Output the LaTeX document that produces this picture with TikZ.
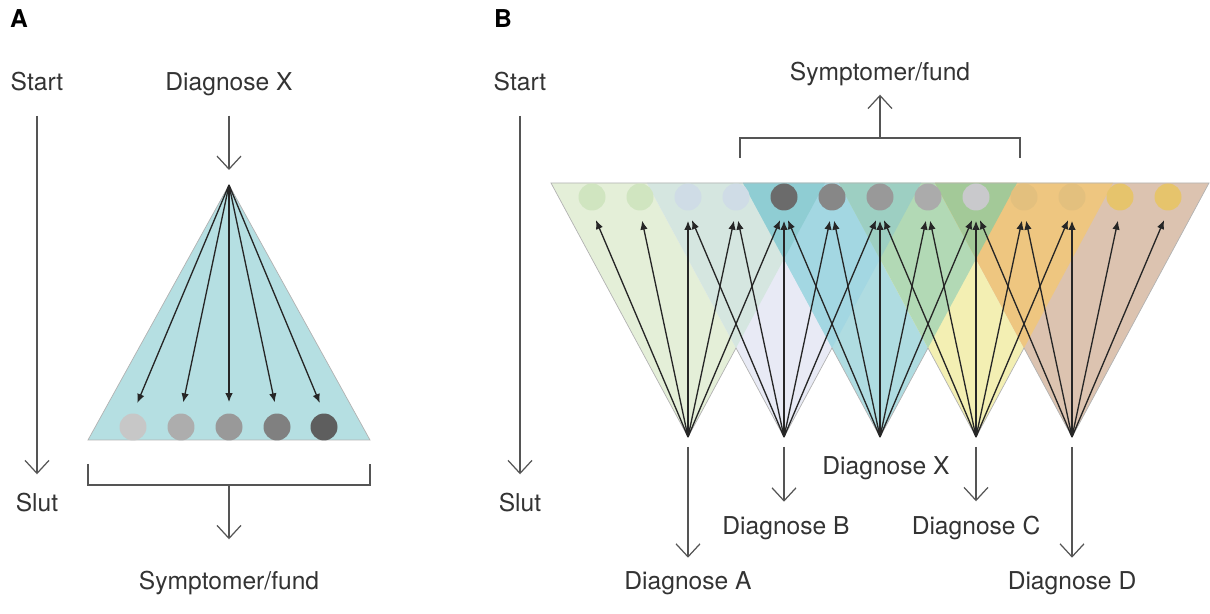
\documentclass[tikz,border=0pt]{standalone}
\usepackage{fontspec}
\setmainfont{TeX Gyre Heros}
\usepackage{tikz}
\usetikzlibrary{arrows.meta}

\definecolor{txtgrey}{HTML}{333333}
\definecolor{flowgrey}{HTML}{555555}
\definecolor{pyramid}{HTML}{B5DFE2}
\definecolor{coneA}{HTML}{E4EFD8}
\definecolor{coneB}{HTML}{E8EAF5}
\definecolor{coneX}{HTML}{AFDCE1}
\definecolor{coneC}{HTML}{F3EFB3}
\definecolor{coneD}{HTML}{DCC3B0}
\definecolor{coneAB}{HTML}{D5E6E0}
\definecolor{coneBX}{HTML}{A3D7E2}
\definecolor{coneXC}{HTML}{B2D9B5}
\definecolor{coneCD}{HTML}{EEC680}
\definecolor{coneABX}{HTML}{8FCDD3}
\definecolor{coneBXC}{HTML}{9DCFC2}
\definecolor{coneXCD}{HTML}{A3C998}

\begin{document}
\begin{tikzpicture}[
  x=0.02cm, y=-0.02cm,
  label/.style={
    font=\fontsize{14}{16}\selectfont, text=txtgrey, inner sep=0pt, anchor=base,
  },
  panel/.style={
    font=\fontsize{14}{16}\selectfont\bfseries, text=black, inner sep=0pt, anchor=base,
  },
  flow/.style={
    draw=flowgrey, line width=0.7pt, -{Straight Barb[length=0.26cm, width=0.48cm]},
  },
  pointer/.style={
    draw=black!85, line width=0.75pt, -{Latex[length=0.18cm, width=0.15cm]},
  },
  dot/.style={
    circle, minimum size=0.54cm, inner sep=0pt,
  },
  rim/.style={
    draw=black!30, line width=0.4pt,
  },
  bracket/.style={
    draw=flowgrey, line width=0.7pt,
  },
]
  \useasboundingbox (0,0) rectangle (1210,614);

  % --- Panel A ---
  \node[panel] (pA) at (19,28) {A};
  \node[label] (startA) at (37,91) {Start};
  \node[label] (slutA)  at (37,512) {Slut};
  \draw[flow, shorten <=0.48cm, shorten >=0.38cm] (startA.south) -- (startA.south |- slutA.north);

  \node[label] (diagXA) at (229,91) {Diagnose X};
  \coordinate (topA) at (229,185);
  \draw[flow, shorten <=0.38cm, shorten >=0.3cm] (diagXA.south) -- (topA);

  \fill[pyramid] (topA) -- (370,440) -- (88,440) -- cycle;
  \draw[rim] (topA) -- (370,440) -- (88,440) -- cycle;

  \node[dot, fill=black!22] (pa1) at (133,427) {};
  \node[dot, fill=black!32] (pa2) at (181,427) {};
  \node[dot, fill=black!40] (pa3) at (229,427) {};
  \node[dot, fill=black!50] (pa4) at (277,427) {};
  \node[dot, fill=black!63] (pa5) at (324,427) {};
  \foreach \i in {1,...,5}
    \draw[pointer, shorten >=0.22cm] (topA) -- (pa\i.north);

  \draw[bracket] (88,464) -- (88,485) -- (370,485) -- (370,464);
  \coordinate (brA) at (229,485);
  \node[label] (sympA) at (229,589) {Symptomer/fund};
  \draw[flow, shorten >=0.62cm] (brA) -- (brA |- sympA.north);

  % --- Panel B ---
  \node[panel] (pB) at (503,28) {B};
  \node[label] (startB) at (520,91) {Start};
  \node[label] (slutB)  at (520,512) {Slut};
  \draw[flow, shorten <=0.48cm, shorten >=0.38cm] (startB.south) -- (startB.south |- slutB.north);

  % cones
  \foreach \c/\col in {688/coneA, 784/coneB, 880/coneX, 976/coneC, 1072/coneD}
    \fill[\col] (\c-137,183) -- (\c,437) -- (\c+137,183) -- cycle;
  \foreach \c/\col in {688/coneAB, 784/coneBX, 880/coneXC, 976/coneCD} {
    \begin{scope}
      \clip (\c-137,183) -- (\c,437) -- (\c+137,183) -- cycle;
      \fill[\col] (\c+96-137,183) -- (\c+96,437) -- (\c+96+137,183) -- cycle;
    \end{scope}
  }
  \foreach \c/\col in {688/coneABX, 784/coneBXC, 880/coneXCD} {
    \begin{scope}
      \clip (\c-137,183) -- (\c,437) -- (\c+137,183) -- cycle;
      \clip (\c+96-137,183) -- (\c+96,437) -- (\c+96+137,183) -- cycle;
      \fill[\col] (\c+192-137,183) -- (\c+192,437) -- (\c+192+137,183) -- cycle;
    \end{scope}
  }
  \draw[rim] (551,183) -- (688,437) -- (736,348) -- (784,437) -- (832,348)
    -- (880,437) -- (928,348) -- (976,437) -- (1024,348) -- (1072,437)
    -- (1209,183) -- cycle;

  \coordinate (dA) at (688,437);
  \coordinate (dB) at (784,437);
  \coordinate (dX) at (880,437);
  \coordinate (dC) at (976,437);
  \coordinate (dD) at (1072,437);

  \node[dot, fill={rgb,255:red,208;green,229;blue,192}] (b1)  at (592,197) {};
  \node[dot, fill={rgb,255:red,208;green,229;blue,192}] (b2)  at (640,197) {};
  \node[dot, fill={rgb,255:red,207;green,220;blue,230}] (b3)  at (688,197) {};
  \node[dot, fill={rgb,255:red,207;green,220;blue,230}] (b4)  at (736,197) {};
  \node[dot, fill=black!58] (b5)  at (784,197) {};
  \node[dot, fill=black!47] (b6)  at (832,197) {};
  \node[dot, fill=black!40] (b7)  at (880,197) {};
  \node[dot, fill=black!33] (b8)  at (928,197) {};
  \node[dot, fill={rgb,255:red,201;green,201;blue,204}] (b9)  at (976,197) {};
  \node[dot, fill={rgb,255:red,227;green,192;blue,126}] (b10) at (1024,197) {};
  \node[dot, fill={rgb,255:red,227;green,192;blue,126}] (b11) at (1072,197) {};
  \node[dot, fill={rgb,255:red,230;green,196;blue,108}] (b12) at (1120,197) {};
  \node[dot, fill={rgb,255:red,230;green,196;blue,108}] (b13) at (1168,197) {};

  \foreach \j/\d in {0/dA, 1/dB, 2/dX, 3/dC, 4/dD}
    \foreach \m in {1,...,5} {
      \pgfmathtruncatemacro\k{2*\j+\m}
      \draw[pointer, shorten >=0.2cm] (\d) -- (b\k.south);
    }

  % diagnoses
  \node[label] (diagA) at (688,589) {Diagnose A};
  \node[label] (diagB) at (786,535) {Diagnose B};
  \node[label] (diagX) at (886,475) {Diagnose X};
  \node[label] (diagC) at (976,535) {Diagnose C};
  \node[label] (diagD) at (1072,589) {Diagnose D};
  \draw[flow, shorten <=0.2cm, shorten >=0.26cm] (dA) -- (dA |- diagA.north);
  \draw[flow, shorten <=0.2cm, shorten >=0.3cm] (dB) -- (dB |- diagB.north);
  \draw[flow, shorten <=0.2cm, shorten >=0.3cm] (dC) -- (dC |- diagC.north);
  \draw[flow, shorten <=0.2cm, shorten >=0.26cm] (dD) -- (dD |- diagD.north);

  % findings
  \draw[bracket] (740,158) -- (740,138) -- (1020,138) -- (1020,158);
  \coordinate (brB) at (880,138);
  \node[label] (sympB) at (880,81) {Symptomer/fund};
  \draw[flow, shorten >=0.16cm] (brB) -- (brB |- sympB.south);
\end{tikzpicture}
\end{document}
